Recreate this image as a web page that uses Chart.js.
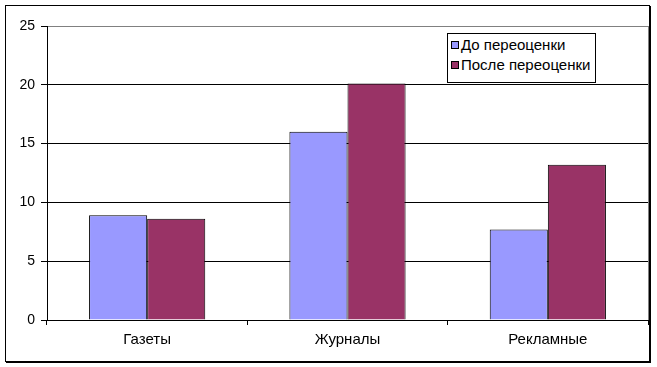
<!DOCTYPE html>
<html>
<head>
<meta charset="utf-8">
<script src="https://cdn.jsdelivr.net/npm/chart.js@4"></script>
<style>
  body { margin: 0; background: #fff; }
  #wrap { position: relative; width: 657px; height: 367px; }
  #frame { position: absolute; left: 5px; top: 5px; width: 643px; height: 355px;
           border: 1px solid #000; box-shadow: 1px 1px 0 #000; pointer-events: none; }
  #legend { position: absolute; left: 447px; top: 33px; width: 147px; height: 48px;
            border: 1px solid #000; background: #fff; font: 15px "Liberation Sans", Arial, sans-serif; }
  #legend div { position: absolute; left: 3px; white-space: nowrap; }
  #legend span { display: inline-block; width: 6px; height: 6px; border: 1px solid #000;
                 margin-right: 2px; vertical-align: 1px; }
</style>
</head>
<body>
<div id="wrap">
  <canvas id="barChart" width="657" height="367"></canvas>
  <div id="frame"></div>
  <div id="legend"></div>
</div>
<script>
let categories = ["Газеты", "Журналы", "Рекламные"];
let seriesNames = ["До переоценки", "После переоценки"];
let beforeValues = [8.9, 16.0, 7.7];
let afterValues = [8.6, 20.1, 13.2];
let yTicks = [0, 5, 10, 15, 20, 25];
let colors = ["#9999FF", "#993366"];

// legend as html, inside the plot like the original
let legend = document.getElementById("legend");
seriesNames.forEach(function (name, i) {
  let row = document.createElement("div");
  row.style.top = (i === 0 ? 2 : 22) + "px";
  row.innerHTML = '<span style="background:' + colors[i] + '"></span>' + name;
  legend.appendChild(row);
});

let plotBorder = {
  id: "plotBorder",
  afterDraw(chart) {
    let a = chart.chartArea;
    let c = chart.ctx;
    c.save();
    c.strokeStyle = "#808080";
    c.lineWidth = 1;
    c.beginPath();
    c.moveTo(Math.round(a.right) + 0.5, a.top);
    c.lineTo(Math.round(a.right) + 0.5, a.bottom);
    c.stroke();
    c.restore();
  },
};

let ctx = document.getElementById("barChart").getContext("2d");

let chart = new Chart(ctx, {
  type: "bar",
  data: {
    labels: categories,
    datasets: [
      {
        label: seriesNames[0],
        data: beforeValues,
        backgroundColor: colors[0],
        borderColor: "#000",
        borderWidth: 1,
        categoryPercentage: 0.58,
        barPercentage: 1.0,
      },
      {
        label: seriesNames[1],
        data: afterValues,
        backgroundColor: colors[1],
        borderColor: "#000",
        borderWidth: 1,
        categoryPercentage: 0.58,
        barPercentage: 1.0,
      },
    ],
  },
  options: {
    responsive: false,
    animation: false,
    layout: {
      padding: { left: 0, right: 9, top: 26, bottom: 0 },
    },
    plugins: {
      legend: { display: false },
      tooltip: { enabled: false },
    },
    scales: {
      x: {
        grid: {
          display: true,
          drawOnChartArea: false,
          drawTicks: true,
          tickLength: 5,
          color: "#000",
        },
        border: { color: "#000", width: 1 },
        ticks: {
          color: "#000",
          padding: 6,
          font: { family: "Liberation Sans", size: 15 },
        },
        afterFit(scale) {
          scale.height = 47;
        },
      },
      y: {
        min: 0,
        max: 25,
        afterBuildTicks(scale) {
          scale.ticks = yTicks.map(function (v) { return { value: v }; });
        },
        grid: {
          color: function (c) { return c.tick && c.tick.value === 25 ? "#808080" : "#000"; },
          tickColor: "#000",
          tickLength: 6,
        },
        border: { color: "#000", width: 1 },
        ticks: {
          color: "#000",
          padding: 6,
          font: { family: "Liberation Sans", size: 14 },
        },
        afterFit(scale) {
          scale.width = 47;
        },
      },
    },
  },
  plugins: [plotBorder],
});
</script>
</body>
</html>
